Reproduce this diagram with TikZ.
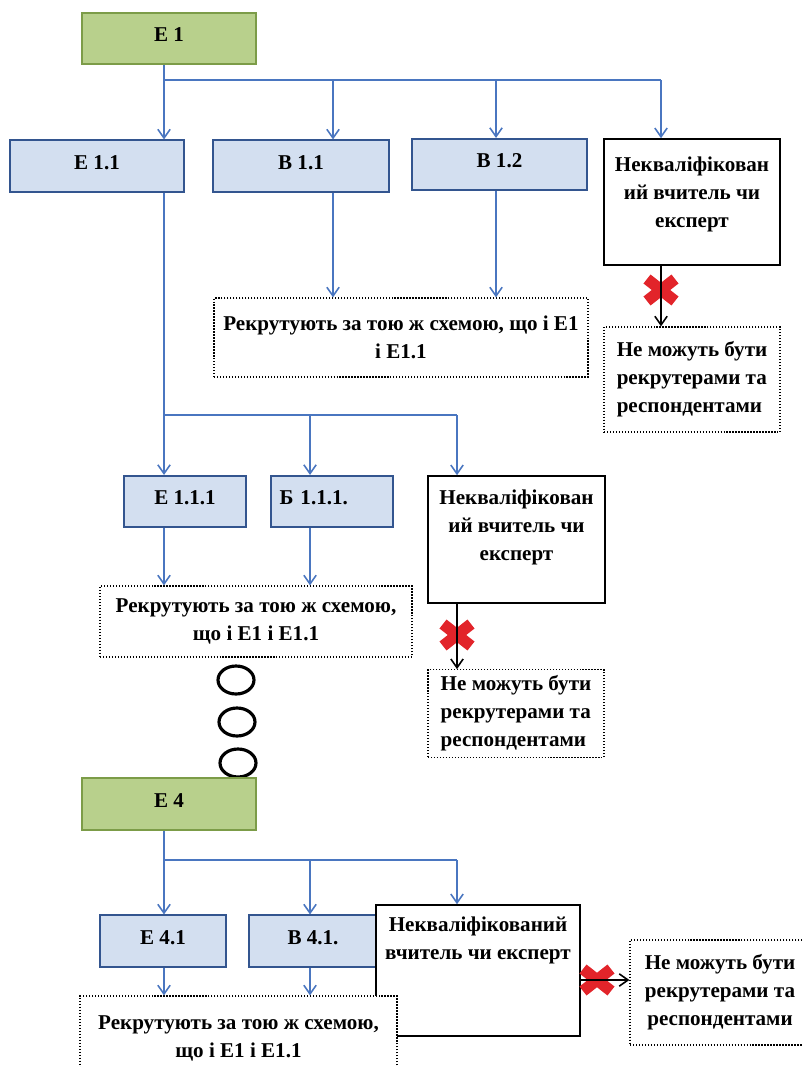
\documentclass[tikz,border=0pt]{standalone}
\usepackage{fontspec}
\setmainfont{Liberation Serif}
\usetikzlibrary{arrows.meta,positioning,shapes.geometric}

\definecolor{lineblue}{HTML}{4A76C0}
\definecolor{boxblue}{HTML}{D3DFF0}
\definecolor{edgeblue}{HTML}{33558F}
\definecolor{boxgreen}{HTML}{B8D08C}
\definecolor{edgegreen}{HTML}{7C9C48}
\definecolor{crossred}{HTML}{E2242A}

% red cross over a connector
\newcommand{\redcross}[1]{\draw[crossred, line width=6.5pt] ([shift={(-14,-11)}]#1) -- ([shift={(14,11)}]#1) ([shift={(-14,11)}]#1) -- ([shift={(14,-11)}]#1);}

\begin{document}
\begin{tikzpicture}[x=0.02cm, y=-0.02cm, font=\fontsize{12}{16}\selectfont\bfseries,
  greenbox/.style={rectangle, draw=edgegreen, fill=boxgreen, line width=0.9pt, minimum width=3.48cm, minimum height=1.03cm, text depth=0.15cm},
  bluebox/.style={rectangle, draw=edgeblue, fill=boxblue, line width=0.9pt, minimum height=1.03cm, text depth=0.15cm},
  nkbox/.style={rectangle, draw=black, fill=white, line width=0.9pt},
  nktext/.style={align=center, inner sep=0pt},
  dotbox/.style={rectangle, draw=black, fill=white, densely dotted, line width=0.7pt},
  oval/.style={ellipse, draw=black, fill=white, line width=1.8pt, minimum width=0.72cm, minimum height=0.56cm, inner sep=0pt},
  blueline/.style={draw=lineblue, line width=0.9pt},
  bluearrow/.style={draw=lineblue, line width=0.9pt, -{Straight Barb[length=5pt, width=7pt]}},
  blackarrow/.style={draw=black, line width=0.9pt, -{Straight Barb[length=5pt, width=7pt]}}]
  \clip (0,0) rectangle (803,1067);

  % first level
  \node[greenbox] (e1) at (169,38.5) {Е 1};
  \node[bluebox, minimum width=3.48cm] (e11) at (97,166) {Е 1.1};
  \node[bluebox, minimum width=3.52cm] (b11) at (301,166) {В 1.1};
  \node[bluebox, minimum width=3.5cm] (b12) at (499.5,164.5) {В 1.2};
  \node[nkbox, minimum width=3.52cm, minimum height=2.52cm] (nk1) at (692,202) {};
  \node[nktext, below=0.36cm of nk1.north] (nk1t) {Некваліфікован\\ий вчитель чи\\експерт};
  \node[dotbox, align=center, minimum width=7.48cm, minimum height=1.58cm] (r1) at (401,337.5) {Рекрутують за тою ж схемою, що і Е1\\і Е1.1};
  \node[dotbox, align=left, minimum width=3.52cm, minimum height=2.1cm] (nm1) at (692,379.5) {Не можуть бути\\рекрутерами та\\респондентами};

  % second level
  \node[bluebox, minimum width=2.44cm] (e111) at (185,501.5) {Е 1.1.1};
  \node[bluebox, minimum width=2.44cm, text width=2.1cm, align=left] (b111) at (332,501.5) {Б 1.1.1.};
  \node[nkbox, minimum width=3.54cm, minimum height=2.54cm] (nk2) at (516.5,539.5) {};
  \node[nktext, below=0.28cm of nk2.north] (nk2t) {Некваліфікован\\ий вчитель чи\\експерт};
  \node[dotbox, align=center, minimum width=6.24cm, minimum height=1.42cm] (r2) at (256,621.5) {Рекрутують за тою ж схемою,\\що і Е1 і Е1.1};
  \node[dotbox, align=left, minimum width=3.52cm, minimum height=1.74cm] (nm2) at (516,713.5) {Не можуть бути\\рекрутерами та\\респондентами};

  \node[oval] (ov1) at (236,680) {};
  \node[oval] (ov2) at (237,722) {};
  \node[oval] (ov3) at (238,763) {};

  % last level
  \node[greenbox] (e4) at (169,804) {Е 4};
  \node[bluebox, minimum width=2.52cm] (e41) at (163,941) {Е 4.1};
  \node[bluebox, minimum width=2.56cm] (b41) at (313,941) {В 4.1.};
  \node[nkbox, minimum width=4.08cm, minimum height=2.62cm] (nk3) at (478,970.5) {};
  \node[nktext, below=0.24cm of nk3.north] (nk3t) {Некваліфікований\\вчитель чи експерт};
  \node[dotbox, align=center, minimum width=6.34cm, minimum height=1.68cm] (r3) at (238.5,1038) {Рекрутують за тою ж схемою,\\що і Е1 і Е1.1};
  \node[dotbox, align=center, minimum width=3.6cm, minimum height=2.1cm] (nm3) at (720,992.5) {Не можуть бути\\рекрутерами та\\респондентами};

  \coordinate (a1) at (164,80);
  \coordinate (a2) at (333,80);
  \coordinate (a3) at (496,80);
  \coordinate (a4) at (661,80);
  \coordinate (c1) at (164,415);
  \coordinate (c2) at (310,415);
  \coordinate (c3) at (457,415);
  \coordinate (d1) at (164,860);
  \coordinate (d2) at (310,860);
  \coordinate (d3) at (457,860);
  \coordinate (x1) at (661,290);
  \coordinate (x2) at (457,635);
  \coordinate (x3) at (597,980);

  % connectors
  \draw[blueline] (e1.south -| a1) -- (a1) -- (a4);
  \draw[blueline] (a1 |- e11.south) -- (c1) -- (c3);
  \draw[blueline] (e4.south -| d1) -- (d1) -- (d3);
  \foreach \p/\n in {a1/e11, a2/b11, a3/b12, a4/nk1, c1/e111, c2/b111, c3/nk2, d1/e41, d2/b41, d3/nk3}
    \draw[bluearrow] (\p) -- (\p |- \n.north);
  \foreach \p/\s/\t in {a2/b11/r1, a3/b12/r1, c1/e111/r2, c2/b111/r2, d1/e41/r3, d2/b41/r3}
    \draw[bluearrow] (\p |- \s.south) -- (\p |- \t.north);

  \redcross{x1}
  \redcross{x2}
  \redcross{x3}
  \draw[blackarrow] (a4 |- nk1.south) -- (a4 |- nm1.north);
  \draw[blackarrow] (c3 |- nk2.south) -- (c3 |- nm2.north);
  \draw[blackarrow] (nk3.east |- x3) -- (nm3.west |- x3);
\end{tikzpicture}
\end{document}
